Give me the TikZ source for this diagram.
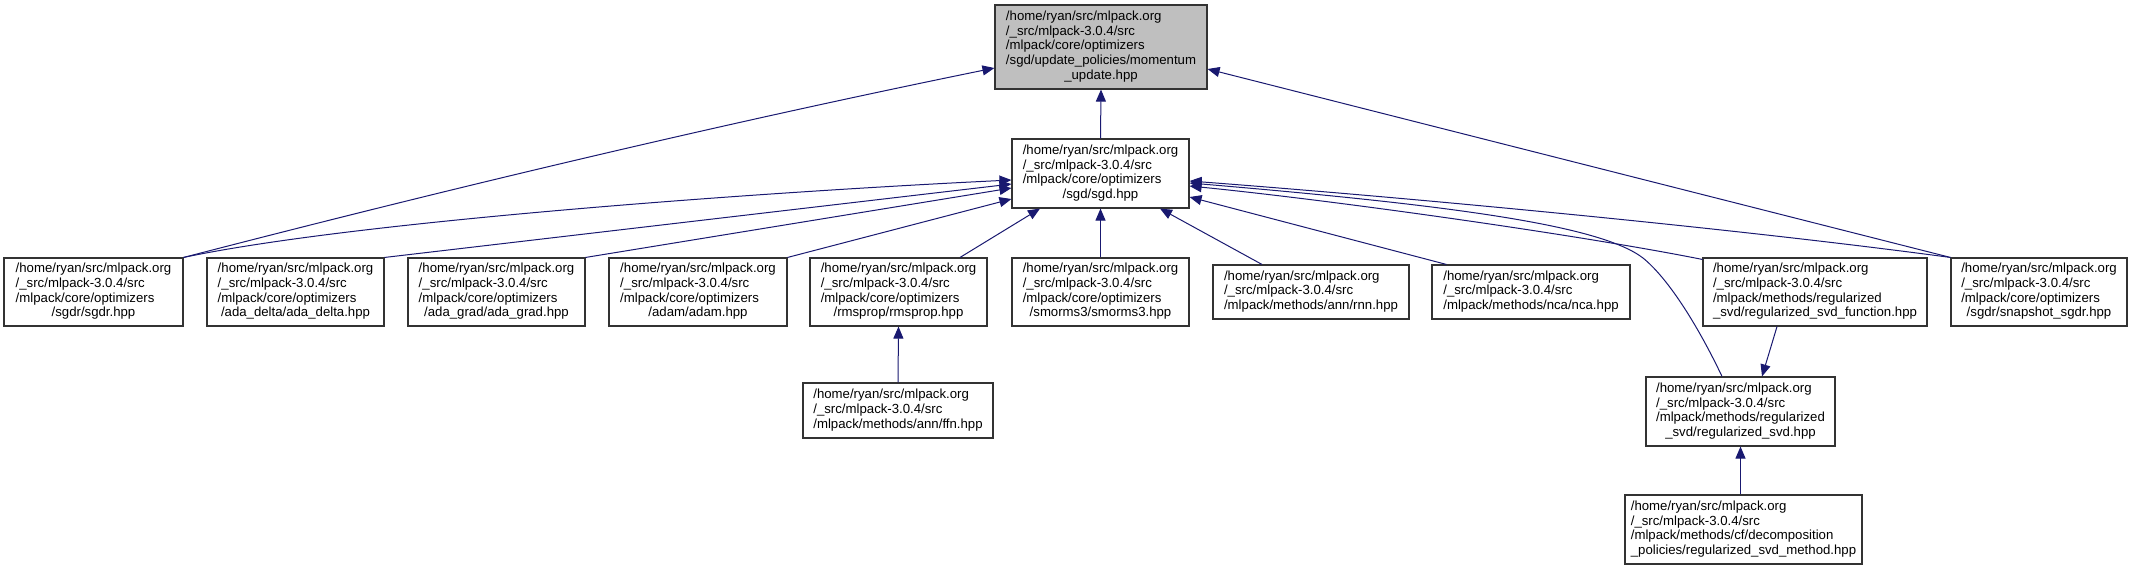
\documentclass[tikz,border=0pt]{standalone}
\usepackage{fontspec}
\setmainfont{Liberation Sans}
\usetikzlibrary{arrows.meta}
\definecolor{mblue}{RGB}{25,25,112}
\definecolor{greyfill}{RGB}{191,191,191}
\newcommand{\lastc}[1]{\multicolumn{1}{@{}c@{}}{#1}}
\newcommand{\hdr}{/home/ryan/src/mlpack.org\\/\_src/mlpack-3.0.4/src\\}
\newcommand{\opt}{/mlpack/core/optimizers\\}
\begin{document}
\begin{tikzpicture}[x=1pt,y=-1pt,
  box/.style={draw=black!80, line width=1.1pt, fill=white, inner sep=0pt,
    font=\fontsize{13.2}{14.7}\selectfont},
  row4/.style={box, minimum height=68pt},
  row3/.style={box, minimum height=54pt},
  edge/.style={draw=mblue, line width=1pt, -{Triangle[length=12pt,width=10pt]}}]
\useasboundingbox (0,0) rectangle (2133,571);

% nodes
\node[box, fill=greyfill, minimum width=212pt, minimum height=84pt] (mom) at (1101,47)
  {\begin{tabular}{@{}l@{}}\hdr\opt/sgd/update\_policies/momentum\\\lastc{\_update.hpp}\end{tabular}};
\node[box, minimum width=177pt, minimum height=69pt] (sgd) at (1100.5,173.5)
  {\begin{tabular}{@{}l@{}}\hdr\opt\lastc{/sgd/sgd.hpp}\end{tabular}};

\node[row4, minimum width=179pt] (sgdr) at (93.5,292)
  {\begin{tabular}{@{}l@{}}\hdr\opt\lastc{/sgdr/sgdr.hpp}\end{tabular}};
\node[row4, minimum width=177pt] (adadelta) at (295.5,292)
  {\begin{tabular}{@{}l@{}}\hdr\opt\lastc{/ada\_delta/ada\_delta.hpp}\end{tabular}};
\node[row4, minimum width=177pt] (adagrad) at (496.5,292)
  {\begin{tabular}{@{}l@{}}\hdr\opt\lastc{/ada\_grad/ada\_grad.hpp}\end{tabular}};
\node[row4, minimum width=178pt] (adam) at (698,292)
  {\begin{tabular}{@{}l@{}}\hdr\opt\lastc{/adam/adam.hpp}\end{tabular}};
\node[row4, minimum width=177pt] (rmsprop) at (898.5,292)
  {\begin{tabular}{@{}l@{}}\hdr\opt\lastc{/rmsprop/rmsprop.hpp}\end{tabular}};
\node[row4, minimum width=177pt] (smorms) at (1100.5,292)
  {\begin{tabular}{@{}l@{}}\hdr\opt\lastc{/smorms3/smorms3.hpp}\end{tabular}};
\node[row3, minimum width=196pt] (rnn) at (1311,292)
  {\begin{tabular}{@{}l@{}}\hdr\lastc{/mlpack/methods/ann/rnn.hpp}\end{tabular}};
\node[row3, minimum width=198pt] (nca) at (1531,292)
  {\begin{tabular}{@{}l@{}}\hdr\lastc{/mlpack/methods/nca/nca.hpp}\end{tabular}};
\node[row4, minimum width=224pt] (rsvdf) at (1815,292)
  {\begin{tabular}{@{}l@{}}\hdr/mlpack/methods/regularized\\\lastc{\_svd/regularized\_svd\_function.hpp}\end{tabular}};
\node[row4, minimum width=176pt] (snap) at (2039,292)
  {\begin{tabular}{@{}l@{}}\hdr\opt\lastc{/sgdr/snapshot\_sgdr.hpp}\end{tabular}};

\node[box, minimum width=190pt, minimum height=55pt] (ffn) at (898,410.5)
  {\begin{tabular}{@{}l@{}}\hdr\lastc{/mlpack/methods/ann/ffn.hpp}\end{tabular}};
\node[box, minimum width=189pt, minimum height=69pt] (rsvd) at (1740.5,411.5)
  {\begin{tabular}{@{}l@{}}\hdr/mlpack/methods/regularized\\\lastc{\_svd/regularized\_svd.hpp}\end{tabular}};
\node[box, minimum width=237pt, minimum height=69pt] (rsvdm) at (1743.5,529.5)
  {\begin{tabular}{@{}l@{}}\hdr/mlpack/methods/cf/decomposition\\\lastc{\_policies/regularized\_svd\_method.hpp}\end{tabular}};

\coordinate (bend) at (1643,258);

% edges to momentum_update
\draw[edge] (sgd.north) -- (mom.south);
\draw[edge] (sgdr.north east) .. controls +(270,-70) and +(-270,55) .. ([yshift=-21pt]mom.west);
\draw[edge] (snap.north west) -- ([yshift=-22pt]mom.east);

% edges to sgd (left side)
\draw[edge] (sgdr.north east) .. controls +(170,-36) and +(-250,12) .. ([yshift=-6.5pt]sgd.west);
\draw[edge] (adadelta.north east) -- ([yshift=-10.5pt]sgd.west);
\draw[edge] (adagrad.north east) -- ([yshift=-14.5pt]sgd.west);
\draw[edge] (adam.north east) -- ([yshift=-25.5pt]sgd.west);
% edges to sgd (bottom)
\draw[edge] ([xshift=61.5pt]rmsprop.north) -- ([xshift=-60.5pt]sgd.south);
\draw[edge] (smorms.north) -- (sgd.south);
\draw[edge] ([xshift=-49pt]rnn.north) -- ([xshift=59.5pt]sgd.south);
% edges to sgd (right side)
\draw[edge] ([xshift=15pt]nca.north west) -- ([yshift=-23.5pt]sgd.east);
\draw[edge] ([yshift=-2pt]rsvdf.north west) .. controls +(-120,-24) and +(150,15) .. ([yshift=-12.5pt]sgd.east);
\draw[edge] (snap.north west) .. controls +(-200,-27) and +(250,19) .. ([yshift=-7.5pt]sgd.east);
\draw[edge] ([xshift=-18.5pt]rsvd.north) .. controls (1700,330) and (1670,280) .. (bend)
  .. controls (1600,225) and (1450,205) .. ([yshift=-9.5pt]sgd.east);

% lower edges
\draw[edge] ([xshift=-38pt]rsvdf.south) -- ([xshift=21.5pt]rsvd.north);
\draw[edge] (ffn.north) -- (rmsprop.south);
\draw[edge] (rsvdm.north -| rsvd.south) -- (rsvd.south);
\end{tikzpicture}
\end{document}
